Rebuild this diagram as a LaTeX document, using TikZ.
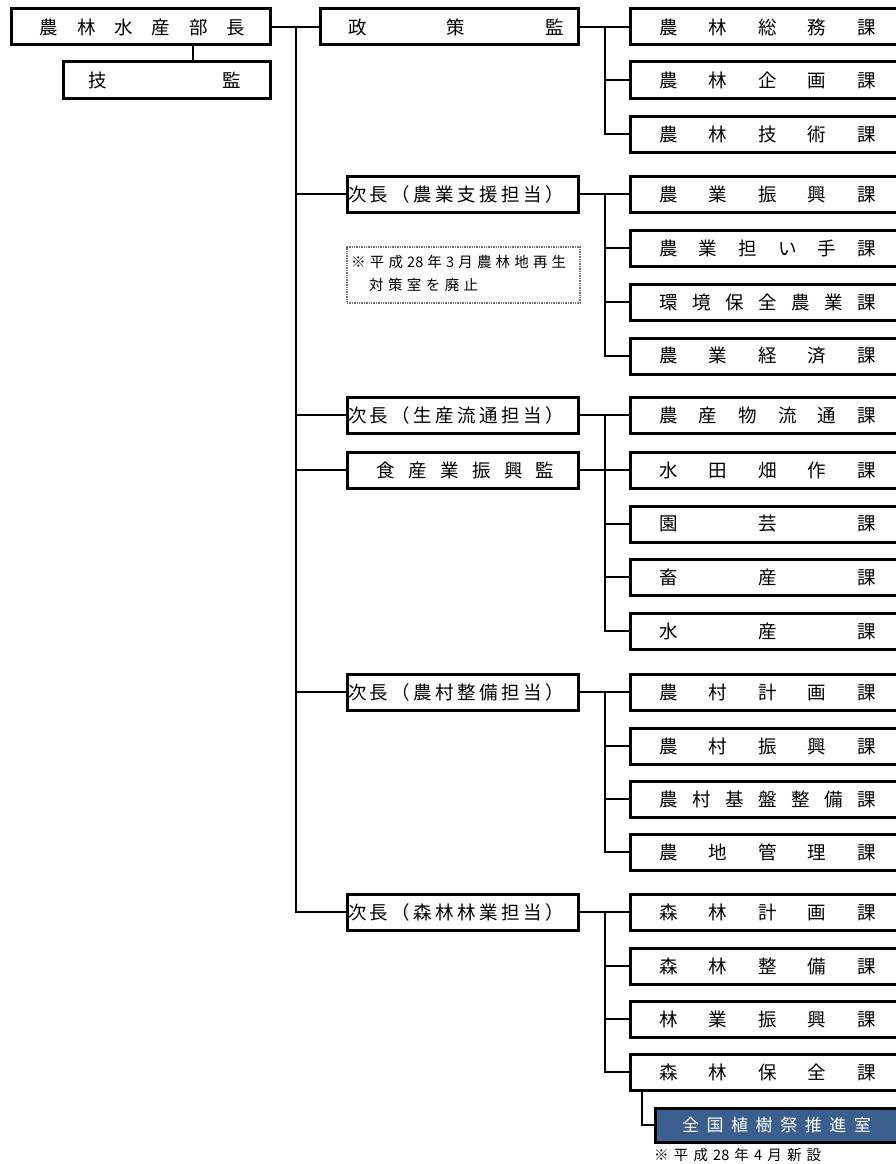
\documentclass[tikz,border=0pt]{standalone}
\usepackage{fontspec}
\setmainfont{Noto Sans CJK JP}
\definecolor{zkblue}{RGB}{58,94,142}
\newcommand\spr[3]{\hspace*{#2}\makebox[#1][s]{\spaceskip=0pt plus 1fil\relax#3}\hspace*{-#2}}
\begin{document}
\begin{tikzpicture}[x=1pt,y=-1pt,
  box/.style={draw,line width=3pt,fill=white,inner sep=0pt,minimum height=36pt,font=\fontsize{18.5}{21}\selectfont},
  mbox/.style={box,minimum width=231pt},
  rbox/.style={box,minimum width=275pt},
  conn/.style={line width=2pt},
  notetext/.style={inner sep=0pt,anchor=west,font=\fontsize{14.5}{17}\selectfont},
  notebox/.style={draw=gray!90!black,line width=1.4pt,densely dotted,fill=white,minimum width=233pt,minimum height=56pt,inner sep=0pt}
]
\useasboundingbox (0,0) rectangle (895,1164);
\coordinate (bg) at (193,0);
\coordinate (tr) at (296,0);
\coordinate (st) at (605,0);

\node[box,minimum width=259pt] (bucho) at (140.5,27) {\spr{206pt}{2pt}{農 林 水 産 部 長}};
\node[box,minimum width=207pt] (gikan) at (166.5,80) {\spr{153pt}{-2pt}{技 監}};
\node[box,minimum width=258pt] (seisaku) at (449,27) {\spr{216pt}{7pt}{政 策 監}};
\node[mbox] (j1) at (462.5,194) {\spr{216pt}{-6.5pt}{次 長 （ 農 業 支 援 担 当 ）}};
\node[mbox] (j2) at (462.5,415) {\spr{216pt}{-6.5pt}{次 長 （ 生 産 流 通 担 当 ）}};
\node[mbox] (shoku) at (462.5,470) {\spr{178pt}{3pt}{食 産 業 振 興 監}};
\node[mbox] (j3) at (462.5,692) {\spr{216pt}{-6.5pt}{次 長 （ 農 村 整 備 担 当 ）}};
\node[mbox] (j4) at (462.5,912) {\spr{216pt}{-6.5pt}{次 長 （ 森 林 林 業 担 当 ）}};

\node[notebox] (note) at (463.5,275) {};
\node[notetext] (note1) at (351,262) {\spr{215pt}{0pt}{※ 平 成 28 年 3 月 農 林 地 再 生}};
\node[notetext] (note2) at (369,285) {\spr{109pt}{0pt}{対 策 室 を 廃 止}};

\foreach \y/\t [count=\i] in {
  27/{農 林 総 務 課}, 80/{農 林 企 画 課}, 134/{農 林 技 術 課},
  194/{農 業 振 興 課}, 248/{農 業 担 い 手 課}, 302/{環 境 保 全 農 業 課}, 356/{農 業 経 済 課},
  415/{農 産 物 流 通 課}, 470/{水 田 畑 作 課}, 524/{園 芸 課}, 577/{畜 産 課}, 631/{水 産 課},
  692/{農 村 計 画 課}, 746/{農 村 振 興 課}, 799/{農 村 基 盤 整 備 課}, 852/{農 地 管 理 課},
  912/{森 林 計 画 課}, 966/{森 林 整 備 課}, 1019/{林 業 振 興 課}, 1072/{森 林 保 全 課}}
  {\node[rbox] (r\i) at (767.5,\y) {\spr{217pt}{0pt}{\t}};}

\node[box,minimum width=250pt,minimum height=34pt,fill=zkblue,text=white,font=\fontsize{17}{20}\selectfont] (zk) at (780,1125) {\spr{189pt}{-3.5pt}{全 国 植 樹 祭 推 進 室}};
\node[notetext] (newnote) at (654,1155) {\spr{167pt}{0pt}{※ 平 成 28 年 4 月 新 設}};

% left part
\draw[conn] (bucho.south -| bg) -- (gikan.north -| bg);
\draw[conn] (bucho.east) -- (seisaku.west);
\draw[conn] (bucho.east -| tr) |- (j4.west);
\draw[conn] (j1.west -| tr) -- (j1.west);
\draw[conn] (j2.west -| tr) -- (j2.west);
\draw[conn] (shoku.west -| tr) -- (shoku.west);
\draw[conn] (j3.west -| tr) -- (j3.west);

% group 1
\draw[conn] (seisaku.east) -- (r1.west);
\draw[conn] (r1.west -| st) |- (r3.west);
\draw[conn] (r2.west -| st) -- (r2.west);
% group 2
\draw[conn] (j1.east) -- (r4.west);
\draw[conn] (r4.west -| st) |- (r7.west);
\draw[conn] (r5.west -| st) -- (r5.west);
\draw[conn] (r6.west -| st) -- (r6.west);
% group 3
\draw[conn] (j2.east) -- (r8.west);
\draw[conn] (r8.west -| st) |- (r12.west);
\draw[conn] (shoku.east) -- (r9.west);
\draw[conn] (r10.west -| st) -- (r10.west);
\draw[conn] (r11.west -| st) -- (r11.west);
% group 4
\draw[conn] (j3.east) -- (r13.west);
\draw[conn] (r13.west -| st) |- (r16.west);
\draw[conn] (r14.west -| st) -- (r14.west);
\draw[conn] (r15.west -| st) -- (r15.west);
% group 5
\draw[conn] (j4.east) -- (r17.west);
\draw[conn] (r17.west -| st) |- (r20.west);
\draw[conn] (r18.west -| st) -- (r18.west);
\draw[conn] (r19.west -| st) -- (r19.west);
% sub office
\draw[conn] ([xshift=13.5pt]r20.south west) |- (zk.west);
\end{tikzpicture}
\end{document}
